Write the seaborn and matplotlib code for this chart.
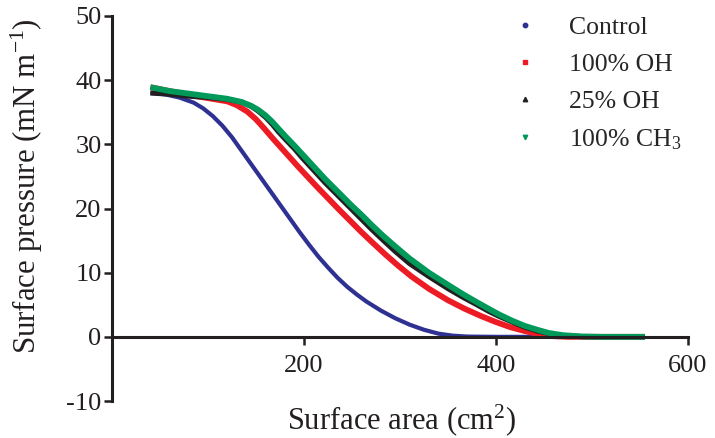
import matplotlib
matplotlib.use("Agg")
import matplotlib.pyplot as plt
from matplotlib.lines import Line2D
import pandas as pd
import seaborn as sns

# ---------------------------------------------------------------------------
# Data (read off the reference isotherms)
# ---------------------------------------------------------------------------
control_area = [40, 55, 70, 85, 95, 105, 115, 125, 135, 145, 155, 165, 175, 185, 195, 205, 215,
                225, 235, 245, 255, 265, 280, 295, 310, 325, 340, 355, 370, 400, 460]
control_pressure = [38.0, 37.8, 37.3, 36.5, 35.6, 34.4, 32.9, 31.1, 29.0, 26.9, 24.8, 22.7, 20.6,
                    18.5, 16.4, 14.4, 12.5, 10.8, 9.2, 7.8, 6.6, 5.5, 4.1, 2.9, 1.9, 1.1, 0.5,
                    0.18, 0.04, 0.0, 0.0]

oh100_area = [40, 60, 80, 100, 120, 130, 141, 150, 159, 167, 176, 185, 194, 204, 214, 225,
              236, 248, 260, 272, 285, 298, 312, 330, 350, 367, 385, 400, 415, 430, 445, 460, 475, 555]
oh100_pressure = [38.9, 38.3, 37.7, 37.2, 36.7, 36.1, 35.1, 33.9, 32.4, 31.0, 29.5, 28.0, 26.5,
                  24.9, 23.3, 21.6, 19.9, 18.1, 16.3, 14.6, 12.8, 11.1, 9.4, 7.5, 5.7, 4.4, 3.2,
                  2.3, 1.5, 0.9, 0.4, 0.1, 0.0, 0.0]

oh25_area = [40, 60, 80, 100, 120, 135, 145, 152, 160, 167, 173, 181, 190, 198, 206, 214, 222,
             230, 240, 250, 260, 270, 282, 295, 310, 330, 350, 365, 380, 392, 403, 417, 430, 443,
             455, 470, 490, 510, 555]
oh25_pressure = [38.0, 37.8, 37.5, 37.3, 37.0, 36.6, 35.9, 35.2, 34.2, 33.1, 32.0, 30.7, 29.3,
                 27.9, 26.6, 25.3, 24.0, 22.8, 21.3, 19.8, 18.3, 16.8, 15.1, 13.3, 11.4, 9.4,
                 7.5, 6.2, 5.0, 4.0, 3.2, 2.3, 1.5, 0.9, 0.5, 0.2, 0.03, 0.0, 0.0]

ch3_area = [40, 60, 80, 100, 120, 135, 145, 152, 160, 167, 173, 181, 190, 198, 206, 214, 222,
            230, 240, 250, 260, 270, 282, 295, 310, 330, 350, 365, 380, 392, 403, 417, 430, 443,
            455, 470, 490, 510, 555]
ch3_pressure = [38.9, 38.3, 37.9, 37.5, 37.1, 36.6, 36.0, 35.4, 34.5, 33.5, 32.5, 31.2, 29.8,
                28.5, 27.2, 25.9, 24.6, 23.4, 21.9, 20.4, 19.0, 17.5, 15.8, 14.1, 12.2, 10.0,
                8.1, 6.7, 5.4, 4.4, 3.5, 2.5, 1.7, 1.1, 0.6, 0.25, 0.05, 0.0, 0.0]

labels = ["Control", "100% OH", "25% OH", "100% CH$_3$"]
colors = ["#2E3192", "#ED1C24", "#231F20", "#00995A"]
markers = ["o", "s", "^", "v"]
widths = [3.0, 4.2, 3.6, 4.2]

series = [
    (control_area, control_pressure),
    (oh100_area, oh100_pressure),
    (oh25_area, oh25_pressure),
    (ch3_area, ch3_pressure),
]

# ---------------------------------------------------------------------------
# Style
# ---------------------------------------------------------------------------
sns.set_style("ticks")
plt.rcParams["font.family"] = ["Liberation Serif", "DejaVu Serif"]
plt.rcParams["mathtext.fontset"] = "custom"
plt.rcParams["mathtext.rm"] = "Liberation Serif"
plt.rcParams["mathtext.it"] = "Liberation Serif:italic"
plt.rcParams["axes.unicode_minus"] = False

fig = plt.figure(figsize=(7.15, 4.38), dpi=100)
ax = fig.add_axes([112 / 715, 1 - 401 / 438, 576 / 715, 385 / 438])

for (xs, ys), lab, col, lw in zip(series, labels, colors, widths):
    df = pd.DataFrame({"area": xs, "pressure": ys})
    sns.lineplot(data=df, x="area", y="pressure", color=col, linewidth=lw,
                 sort=False, estimator=None, legend=False, ax=ax,
                 solid_capstyle="butt", solid_joinstyle="round")

ax.set_xlim(0, 600)
ax.set_ylim(-10, 50)
ax.set_xticks([200, 400, 600])
ax.set_yticks(range(-10, 51, 10))

for side in ["top", "right"]:
    ax.spines[side].set_visible(False)
ax.spines["bottom"].set_position(("data", 0))
for side in ["left", "bottom"]:
    ax.spines[side].set_linewidth(2.2)
    ax.spines[side].set_color("#231F20")

ax.tick_params(axis="both", direction="out", length=6, width=1.8,
               color="#231F20", labelsize=19, labelcolor="#231F20")
ax.tick_params(axis="x", pad=7)
ax.tick_params(axis="y", pad=1.5)

ax.set_xlabel("Surface area (cm$^2$)", fontsize=22, color="#231F20")
ax.set_ylabel("Surface pressure (mN m$^{-1}$)", fontsize=22.2, color="#231F20")
ax.xaxis.set_label_coords(0.503, -0.003)
ax.yaxis.set_label_coords(-0.117, 0.558)

handles = [Line2D([], [], marker=m, linestyle="None", color=c, markersize=3.2)
           for m, c in zip(markers, colors)]
ax.legend(handles, labels, loc="upper left", bbox_to_anchor=(515 / 715, 1 - 16 / 438),
          bbox_transform=fig.transFigure, frameon=False, fontsize=18.5,
          handlelength=0.8, handletextpad=1.3, labelspacing=0.55,
          borderpad=0, borderaxespad=0)

fig.savefig("out.png", dpi=100)
